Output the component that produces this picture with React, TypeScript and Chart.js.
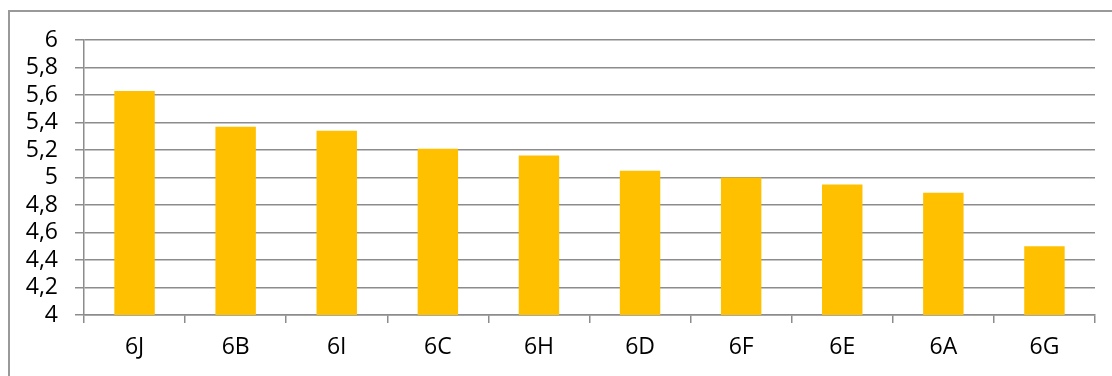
import React, { useEffect, useRef } from "react";
import { Chart, registerables } from "chart.js";

Chart.register(...registerables);

const categories = ["6J", "6B", "6I", "6C", "6H", "6D", "6F", "6E", "6A", "6G"];
const values = [5.63, 5.37, 5.34, 5.21, 5.16, 5.05, 5.0, 4.95, 4.89, 4.5];
const yMin = 4;
const yMax = 6;
const yStep = 0.2;

const FONT = "'Open Sans', 'Liberation Sans', sans-serif";
const GRID = "#8c8c8c";

export default function App() {
  const ref = useRef<HTMLCanvasElement | null>(null);

  useEffect(() => {
    if (!ref.current) return;
    const chart = new Chart(ref.current, {
      type: "bar",
      data: {
        labels: categories,
        datasets: [
          {
            data: values,
            backgroundColor: "#FFC000",
            borderWidth: 0,
            categoryPercentage: 1,
            barPercentage: 0.4,
          },
        ],
      },
      options: {
        responsive: false,
        animation: false,
        layout: { padding: { top: 40, right: 17, left: 0, bottom: 0 } },
        plugins: {
          legend: { display: false },
          tooltip: { enabled: false },
          title: { display: false },
        },
        scales: {
          x: {
            grid: {
              offset: true,
              drawOnChartArea: false,
              color: GRID,
              lineWidth: 1.5,
              tickLength: 8,
            },
            border: { color: GRID, width: 1.5 },
            ticks: {
              color: "#000",
              font: { family: FONT, size: 23 },
              padding: 11,
              maxRotation: 0,
              autoSkip: false,
            },
            afterFit: (scale: any) => {
              scale.height = 61;
            },
          },
          y: {
            min: yMin,
            max: yMax,
            grid: {
              color: GRID,
              lineWidth: 1.5,
              tickLength: 9,
            },
            border: { color: GRID, width: 1.5 },
            ticks: {
              stepSize: yStep,
              autoSkip: false,
              color: "#000",
              font: { family: FONT, size: 23 },
              padding: 17,
              callback: (v: any) => {
                const n = Math.round(Number(v) * 10) / 10;
                return String(n).replace(".", ",");
              },
            },
            afterFit: (scale: any) => {
              scale.width = 84;
            },
          },
        },
      },
    });
    return () => chart.destroy();
  }, []);

  return (
    <div style={{ position: "absolute", left: 0, top: 0, width: 1112, height: 376, overflow: "hidden", background: "#fff" }}>
      <div
        style={{
          position: "absolute",
          left: 8,
          top: 10,
          width: 1200,
          height: 500,
          borderLeft: "2px solid #999",
          borderTop: "2px solid #999",
        }}
      />
      <canvas ref={ref} width={1112} height={376} style={{ position: "absolute", left: 0, top: 0 }} />
    </div>
  );
}
